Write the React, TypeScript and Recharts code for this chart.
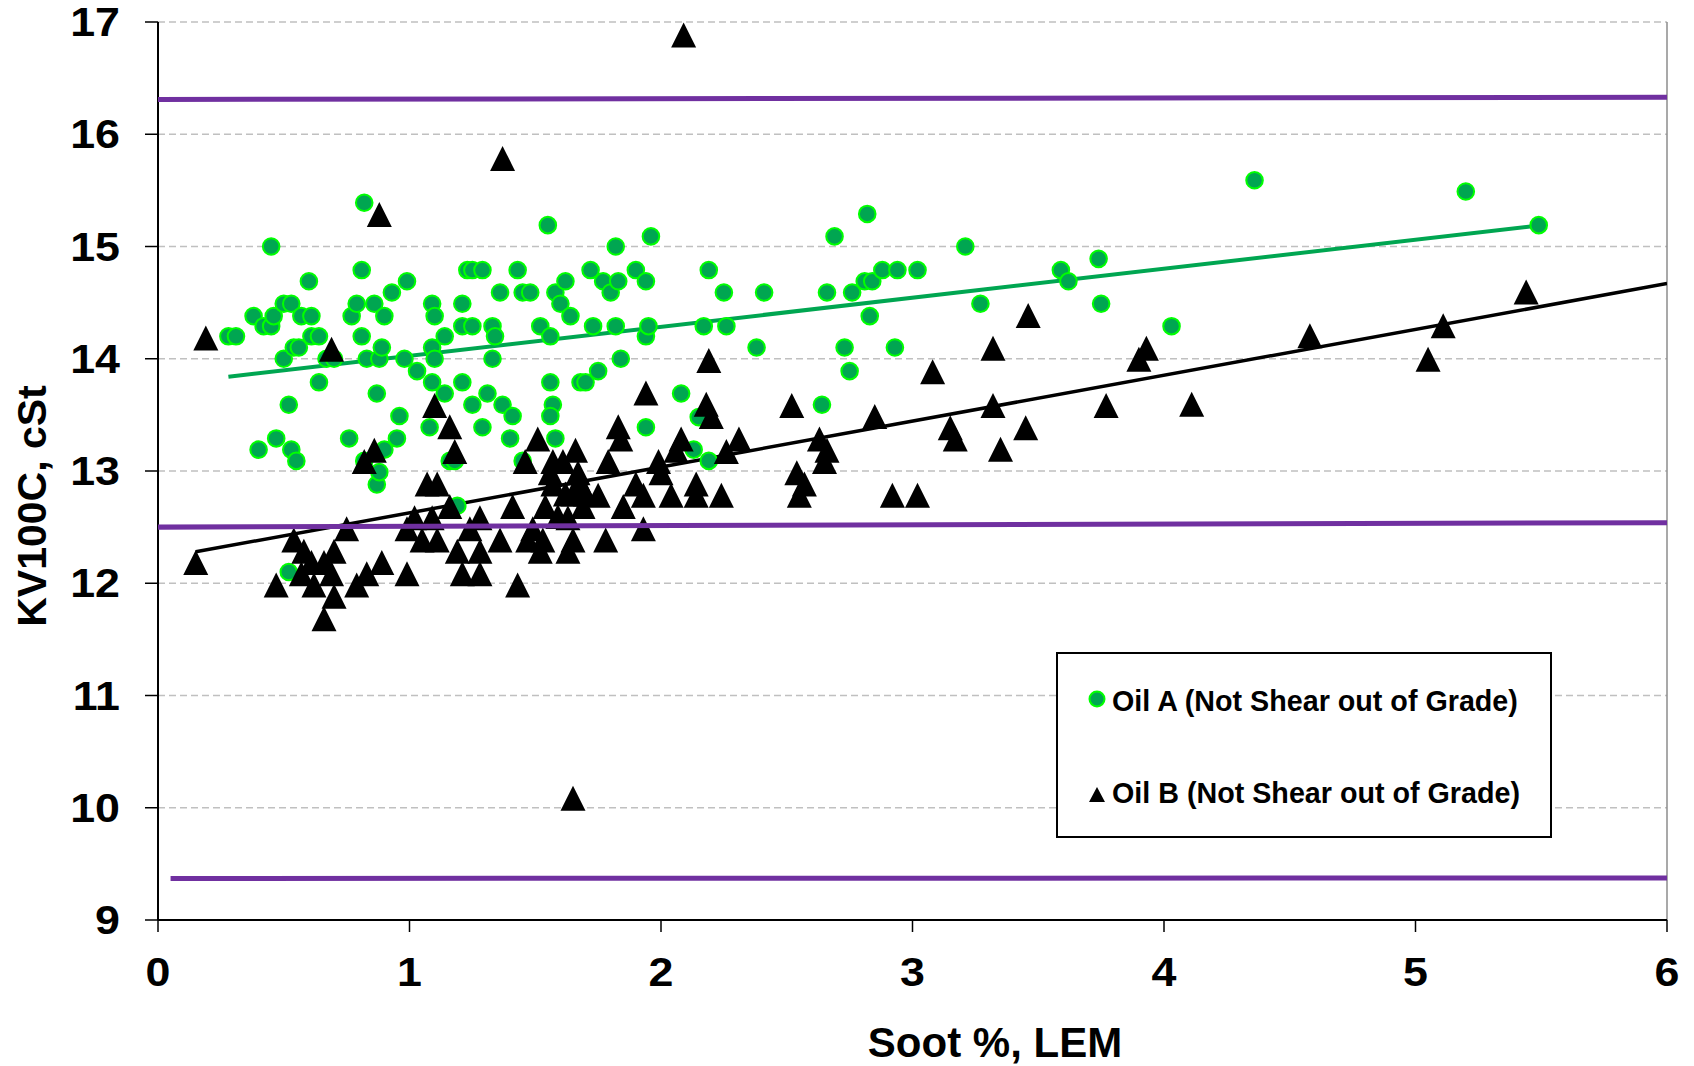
import React from 'react';
import { ComposedChart, Scatter, XAxis, YAxis, CartesianGrid, ReferenceLine } from 'recharts';

const FONT = 'Arial, "Liberation Sans", Helvetica, sans-serif';

const xTicks = [0, 1, 2, 3, 4, 5, 6];
const yTicks = [9, 10, 11, 12, 13, 14, 15, 16, 17];

const seriesNames = ['Oil A (Not Shear out of Grade)', 'Oil B (Not Shear out of Grade)'];
const xTitle = 'Soot %, LEM';
const yTitle = 'KV100C, cSt';

// Oil A: [soot %, KV100C]
const oilA: [number, number][] = [
  [0.28, 14.2], [0.31, 14.2], [0.38, 14.38], [0.40, 13.19], [0.42, 14.29], [0.45, 15.0], [0.45, 14.29],
  [0.46, 14.38], [0.47, 13.29], [0.50, 14.0], [0.50, 14.49], [0.53, 14.49], [0.52, 13.59], [0.53, 13.19],
  [0.54, 14.1], [0.55, 13.09], [0.52, 12.1], [0.57, 14.38], [0.56, 14.1], [0.60, 14.69], [0.61, 14.38],
  [0.61, 14.2], [0.64, 14.2], [0.64, 13.79], [0.67, 14.0], [0.70, 14.0], [0.76, 13.29], [0.77, 14.38],
  [0.79, 14.49], [0.81, 14.79], [0.81, 14.2], [0.82, 15.39], [0.83, 14.0], [0.82, 13.09], [0.86, 14.49],
  [0.88, 14.0], [0.89, 14.1], [0.87, 13.69], [0.87, 12.88], [0.88, 12.99], [0.90, 14.38], [0.90, 13.19],
  [0.93, 14.59], [0.95, 13.29], [0.96, 13.49], [0.98, 14.0], [0.99, 14.69], [1.03, 13.89], [1.09, 13.79],
  [1.14, 13.69], [1.08, 13.39], [1.09, 14.49], [1.10, 14.38], [1.09, 14.1], [1.10, 14.0], [1.14, 14.2],
  [1.16, 13.09], [1.18, 13.09], [1.19, 12.69], [1.21, 14.49], [1.21, 14.29], [1.21, 13.79], [1.23, 14.79],
  [1.25, 14.29], [1.25, 14.79], [1.25, 13.59], [1.29, 14.79], [1.29, 13.39], [1.31, 13.69], [1.33, 14.29],
  [1.33, 14.0], [1.34, 14.2], [1.36, 14.59], [1.37, 13.59], [1.40, 13.29], [1.41, 13.49], [1.43, 14.79],
  [1.45, 13.09], [1.45, 14.59], [1.48, 14.59], [1.52, 14.29], [1.55, 15.19], [1.56, 14.2], [1.56, 13.79],
  [1.57, 13.59], [1.56, 13.49], [1.58, 13.29], [1.58, 14.59], [1.60, 14.49], [1.62, 14.69], [1.64, 14.38],
  [1.68, 13.79], [1.70, 13.79], [1.72, 14.79], [1.73, 14.29], [1.75, 13.89], [1.77, 14.69], [1.80, 14.59],
  [1.82, 15.0], [1.82, 14.29], [1.83, 14.69], [1.84, 14.0], [1.90, 14.79], [1.94, 14.69], [1.94, 14.2],
  [1.95, 14.29], [1.96, 15.09], [1.94, 13.39], [2.08, 13.69], [2.13, 13.19], [2.15, 13.48], [2.17, 14.29],
  [2.19, 14.79], [2.19, 13.09], [2.25, 14.59], [2.26, 14.29], [2.38, 14.1], [2.41, 14.59], [2.64, 13.59],
  [2.66, 14.59], [2.69, 15.09], [2.73, 14.1], [2.75, 13.89], [2.76, 14.59], [2.81, 14.69], [2.82, 15.29],
  [2.83, 14.38], [2.84, 14.69], [2.88, 14.79], [2.93, 14.1], [2.94, 14.79], [3.02, 14.79], [3.21, 15.0],
  [3.27, 14.49], [3.59, 14.79], [3.62, 14.69], [3.74, 14.89], [3.75, 14.49], [4.03, 14.29], [4.36, 15.59],
  [5.20, 15.49], [5.49, 15.19],
];

// Oil B: [soot %, KV100C]
const oilB: [number, number][] = [
  [0.15, 12.18], [0.19, 14.18], [0.47, 11.98], [0.54, 12.38], [0.57, 12.08], [0.58, 12.28], [0.61, 12.18],
  [0.62, 11.98], [0.66, 12.18], [0.66, 11.68], [0.69, 12.08], [0.69, 14.08], [0.70, 12.28], [0.70, 11.88],
  [0.75, 12.48], [0.79, 11.98], [0.83, 12.08], [0.82, 13.08], [0.86, 13.18], [0.88, 15.28], [0.89, 12.18],
  [0.99, 12.48], [0.99, 12.08], [1.02, 12.58], [1.05, 12.38], [1.07, 12.88], [1.09, 12.58], [1.10, 13.58],
  [1.11, 12.88], [1.11, 12.38], [1.16, 13.39], [1.18, 13.17], [1.16, 12.68], [1.19, 12.28], [1.21, 12.08],
  [1.24, 12.48], [1.28, 12.58], [1.28, 12.28], [1.28, 12.08], [1.36, 12.38], [1.37, 15.78], [1.41, 12.68],
  [1.43, 11.98], [1.46, 13.08], [1.47, 12.38], [1.49, 12.48], [1.51, 13.28], [1.52, 12.28], [1.53, 12.38],
  [1.54, 12.68], [1.56, 12.98], [1.57, 13.08], [1.57, 12.88], [1.59, 12.59], [1.61, 13.08], [1.62, 12.79],
  [1.63, 12.58], [1.63, 12.28], [1.65, 12.38], [1.65, 12.79], [1.65, 10.08], [1.66, 13.18], [1.67, 12.98],
  [1.68, 12.88], [1.69, 12.68], [1.70, 12.79], [1.75, 12.78], [1.78, 12.38], [1.79, 13.08], [1.83, 13.39],
  [1.84, 13.28], [1.85, 12.68], [1.90, 12.88], [1.93, 12.78], [1.93, 12.48], [1.94, 13.69], [1.99, 13.08],
  [2.00, 12.98], [2.04, 12.78], [2.06, 13.18], [2.08, 13.28], [2.09, 16.88], [2.14, 12.88], [2.14, 12.78],
  [2.18, 13.59], [2.19, 13.98], [2.20, 13.48], [2.24, 12.78], [2.26, 13.17], [2.31, 13.28], [2.52, 13.58],
  [2.54, 12.98], [2.55, 12.78], [2.57, 12.88], [2.63, 13.28], [2.65, 13.08], [2.66, 13.18], [2.85, 13.48],
  [2.92, 12.78], [3.02, 12.78], [3.08, 13.88], [3.15, 13.38], [3.17, 13.28], [3.32, 14.09], [3.32, 13.58],
  [3.35, 13.19], [3.45, 13.38], [3.46, 14.38], [3.77, 13.58], [3.90, 13.99], [3.93, 14.09], [4.11, 13.59],
  [4.58, 14.2], [5.05, 13.99], [5.11, 14.29], [5.44, 14.59],
];

// Trend lines (end points)
const trendA: [number, number][] = [[0.28, 13.84], [5.5, 15.19]];
const trendB: [number, number][] = [[0.15, 12.28], [6, 14.67]];

// Spec limit lines
const limitHigh: [number, number][] = [[0, 16.31], [6, 16.33]];
const limitMid: [number, number][] = [[0, 12.5], [6, 12.54]];
const limitLow: [number, number][] = [[0.05, 9.37], [6, 9.375]];

const toPts = (arr: [number, number][]) => arr.map(([x, y]) => ({ x, y }));

const GREEN_FILL = '#00A651';
const GREEN_EDGE = '#00FF00';
const PURPLE = '#7030A0';

const CircleShape = (props: any) => {
  const { cx, cy } = props;
  if (cx == null || cy == null) return <g />;
  return <circle cx={cx} cy={cy} r={8.3} fill={GREEN_FILL} stroke={GREEN_EDGE} strokeWidth={2} />;
};

const TriShape = (props: any) => {
  const { cx, cy } = props;
  if (cx == null || cy == null) return <g />;
  return (
    <polygon
      points={`${cx},${cy - 13} ${cx - 12.5},${cy + 12} ${cx + 12.5},${cy + 12}`}
      fill="#000"
    />
  );
};

const NoShape = () => <g />;

const YTick = (props: any) => {
  const { x, y, payload } = props;
  return (
    <text
      transform={`translate(${x},${y}) scale(1.12,1)`}
      textAnchor="end"
      dy="0.355em"
      fontFamily={FONT}
      fontWeight="bold"
      fontSize={40}
      fill="#000"
    >
      {payload.value}
    </text>
  );
};

const XTick = (props: any) => {
  const { x, y, payload } = props;
  return (
    <text
      transform={`translate(${x},${y}) scale(1.12,1)`}
      textAnchor="middle"
      dy="0.71em"
      fontFamily={FONT}
      fontWeight="bold"
      fontSize={40}
      fill="#000"
    >
      {payload.value}
    </text>
  );
};

export default function App() {
  return (
    <div style={{ position: 'absolute', left: 0, top: 0, width: 1694, height: 1066, background: '#fff' }}>
      <ComposedChart
        width={1694}
        height={1066}
        margin={{ top: 22, right: 27, bottom: 0, left: 0 }}
      >
        <CartesianGrid vertical={false} stroke="#C0C0C0" strokeDasharray="7 4" strokeWidth={1.5} />
        <XAxis
          type="number"
          dataKey="x"
          domain={[0, 6]}
          ticks={xTicks}
          interval={0}
          allowDataOverflow
          height={146}
          tickSize={12}
          tickMargin={26}
          axisLine={{ stroke: '#000', strokeWidth: 2 }}
          tickLine={{ stroke: '#000', strokeWidth: 1.5 }}
          tick={<XTick />}
        />
        <YAxis
          type="number"
          dataKey="y"
          domain={[9, 17]}
          ticks={yTicks}
          interval={0}
          allowDataOverflow
          width={158}
          tickSize={13}
          tickMargin={25}
          axisLine={{ stroke: '#000', strokeWidth: 2 }}
          tickLine={{ stroke: '#000', strokeWidth: 1.5 }}
          tick={<YTick />}
        />
        <ReferenceLine x={6} stroke="#8C8C8C" strokeWidth={1.5} />
        <Scatter
          data={toPts(trendA)}
          line={{ stroke: GREEN_FILL, strokeWidth: 4 }}
          stroke={GREEN_FILL}
          fill={GREEN_FILL}
          shape={NoShape}
          isAnimationActive={false}
        />
        <Scatter
          data={toPts(trendB)}
          line={{ stroke: '#000', strokeWidth: 3.5 }}
          stroke="#000"
          fill="#000"
          shape={NoShape}
          isAnimationActive={false}
        />
        <Scatter name={seriesNames[0]} data={toPts(oilA)} shape={CircleShape} fill={GREEN_FILL} isAnimationActive={false} />
        <Scatter name={seriesNames[1]} data={toPts(oilB)} shape={TriShape} fill="#000" isAnimationActive={false} />
        <Scatter
          data={toPts(limitHigh)}
          line={{ stroke: PURPLE, strokeWidth: 5 }}
          stroke={PURPLE}
          fill={PURPLE}
          shape={NoShape}
          isAnimationActive={false}
        />
        <Scatter
          data={toPts(limitMid)}
          line={{ stroke: PURPLE, strokeWidth: 5 }}
          stroke={PURPLE}
          fill={PURPLE}
          shape={NoShape}
          isAnimationActive={false}
        />
        <Scatter
          data={toPts(limitLow)}
          line={{ stroke: PURPLE, strokeWidth: 5 }}
          stroke={PURPLE}
          fill={PURPLE}
          shape={NoShape}
          isAnimationActive={false}
        />
      </ComposedChart>
      <svg
        width={1694}
        height={1066}
        style={{ position: 'absolute', left: 0, top: 0, pointerEvents: 'none' }}
      >
        <text
          x={46}
          y={506}
          transform="rotate(-90 46 506)"
          textAnchor="middle"
          fontFamily={FONT}
          fontWeight="bold"
          fontSize={41}
          fill="#000"
        >
          {yTitle}
        </text>
        <text x={995} y={1057} textAnchor="middle" fontFamily={FONT} fontWeight="bold" fontSize={42} fill="#000">
          {xTitle}
        </text>
        <rect x={1057} y={653} width={494} height={184} fill="#fff" stroke="#000" strokeWidth={2} />
        <circle cx={1097} cy={699} r={7.5} fill={GREEN_FILL} stroke={GREEN_EDGE} strokeWidth={2} />
        <text x={1112} y={711} fontFamily={FONT} fontWeight="bold" fontSize={28.7} fill="#000">
          {seriesNames[0]}
        </text>
        <polygon points="1097,787 1089,802 1105,802" fill="#000" />
        <text x={1112} y={803} fontFamily={FONT} fontWeight="bold" fontSize={28.7} fill="#000">
          {seriesNames[1]}
        </text>
      </svg>
    </div>
  );
}
